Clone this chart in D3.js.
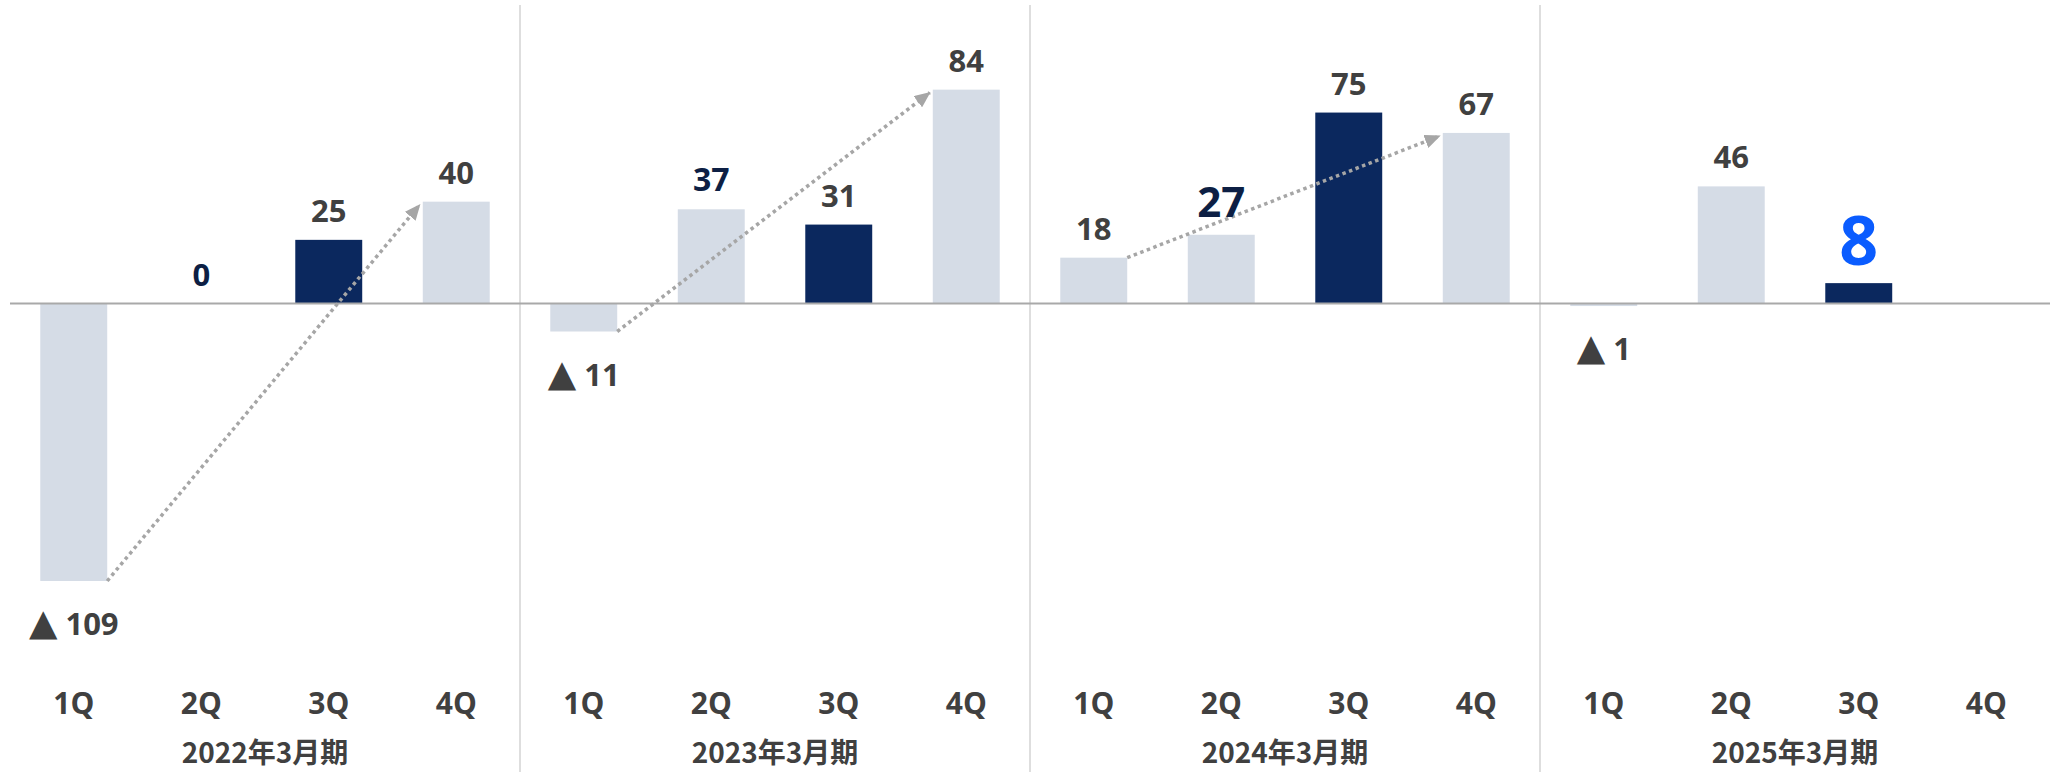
<!DOCTYPE html>
<html>
<head>
<meta charset="utf-8">
<script src="https://cdn.jsdelivr.net/npm/d3@7"></script>
<style>
  html, body { margin: 0; padding: 0; background: #ffffff; }
  svg { display: block; }
</style>
</head>
<body>
<svg id="chart" width="2051" height="772"></svg>
<script>
// ---- data ----
const years = ["2022年3月期", "2023年3月期", "2024年3月期", "2025年3月期"];
const quarters = ["1Q", "2Q", "3Q", "4Q"];
const values2022 = [-109, 0, 25, 40];
const values2023 = [-11, 37, 31, 84];
const values2024 = [18, 27, 75, 67];
const values2025 = [-1, 46, 8, null];
const seriesByYear = [values2022, values2023, values2024, values2025];
const trendArrows = [
  { year: "2022年3月期", from: "1Q", to: "4Q" },
  { year: "2023年3月期", from: "1Q", to: "4Q" },
  { year: "2024年3月期", from: "1Q", to: "4Q" }
];
const highlightQuarter = "3Q";

// ---- styles (kept out of data) ----
const W = 2051, H = 772;
const C_LIGHT = "#d5dce6", C_NAVY = "#0b285e", C_TEXT = "#404040",
      C_NAVY_TEXT = "#0d1f44", C_BLUE = "#0a5cff", C_GRID = "#a9a9a9",
      C_SEP = "#dedede", C_ARROW = "#a6a6a6";
const FONT = "'Open Sans', 'DejaVu Sans', sans-serif";
const CJK = "'Noto Sans CJK JP', 'Noto Sans', sans-serif";
const emphasis = {
  "2022年3月期|2Q": { color: C_NAVY_TEXT, size: 31 },
  "2023年3月期|2Q": { color: C_NAVY_TEXT, size: 32 },
  "2024年3月期|2Q": { color: C_NAVY_TEXT, size: 42 },
  "2025年3月期|3Q": { color: C_BLUE, size: 68 }
};

const rows = [];
years.forEach((yr, i) => quarters.forEach((q, j) => {
  rows.push({ year: yr, q: q, v: seriesByYear[i][j] });
}));

const svg = d3.select("#chart");

const xYear = d3.scaleBand().domain(years).range([10, 2050]);
const xQ = d3.scaleBand().domain(quarters).range([0, xYear.bandwidth()])
  .paddingInner(0.475).paddingOuter(0.2375);
const y = d3.scaleLinear().domain([-120, 120]).range([609, -2]);

const xOf = d => xYear(d.year) + xQ(d.q);
const cxOf = d => xOf(d) + xQ.bandwidth() / 2;

// separators
svg.append("g").selectAll("line")
  .data(years.slice(1))
  .join("line")
  .attr("x1", d => xYear(d)).attr("x2", d => xYear(d))
  .attr("y1", 5).attr("y2", H)
  .attr("stroke", C_SEP).attr("stroke-width", 2);

// bars
const barRows = rows.filter(d => d.v !== null);
svg.append("g").selectAll("rect")
  .data(barRows)
  .join("rect")
  .attr("x", xOf)
  .attr("width", xQ.bandwidth())
  .attr("y", d => Math.min(y(d.v), y(0)))
  .attr("height", d => Math.max(Math.abs(y(d.v) - y(0)), d.v === 0 ? 0 : 2))
  .attr("fill", d => d.q === highlightQuarter ? C_NAVY : C_LIGHT);

// zero line
svg.append("line")
  .attr("x1", xYear.range()[0]).attr("x2", xYear.range()[1])
  .attr("y1", y(0)).attr("y2", y(0))
  .attr("stroke", C_GRID).attr("stroke-width", 2);

// arrows
const defs = svg.append("defs");
defs.append("marker")
  .attr("id", "arrowhead")
  .attr("markerUnits", "userSpaceOnUse")
  .attr("viewBox", "0 0 16 14")
  .attr("refX", 15).attr("refY", 7)
  .attr("markerWidth", 16).attr("markerHeight", 14)
  .attr("orient", "auto")
  .append("path")
  .attr("d", "M0,0 L16,7 L0,14 Z")
  .attr("fill", C_ARROW);

const findRow = (yr, q) => rows.find(r => r.year === yr && r.q === q);
svg.append("g").selectAll("line")
  .data(trendArrows)
  .join("line")
  .attr("x1", a => xOf(findRow(a.year, a.from)) + xQ.bandwidth())
  .attr("y1", a => y(findRow(a.year, a.from).v))
  .attr("x2", a => xOf(findRow(a.year, a.to)) - 3)
  .attr("y2", a => y(findRow(a.year, a.to).v) + 3)
  .attr("stroke", C_ARROW)
  .attr("stroke-width", 3.5)
  .attr("stroke-dasharray", "3.5 3.5")
  .attr("marker-end", "url(#arrowhead)");

// value labels
const lbl = svg.append("g").selectAll("text")
  .data(barRows)
  .join("text")
  .attr("x", cxOf)
  .attr("y", d => d.v < 0 ? y(d.v) + 54 : y(d.v) - 18)
  .attr("text-anchor", "middle")
  .attr("font-family", FONT)
  .attr("font-weight", 700)
  .attr("font-size", d => (emphasis[d.year + "|" + d.q] || {}).size || 31)
  .attr("fill", d => (emphasis[d.year + "|" + d.q] || {}).color || C_TEXT);
lbl.each(function(d) {
  const t = d3.select(this);
  if (d.v < 0) {
    t.append("tspan").attr("font-family", "'DejaVu Sans', sans-serif")
      .attr("font-size", 37).text("▲");
    t.append("tspan").text(" " + Math.abs(d.v));
  } else {
    t.text(d.v);
  }
});

// quarter labels
svg.append("g").selectAll("text")
  .data(rows)
  .join("text")
  .attr("x", cxOf)
  .attr("y", 714)
  .attr("text-anchor", "middle")
  .attr("font-family", FONT)
  .attr("font-weight", 700)
  .attr("font-size", 30)
  .attr("fill", C_TEXT)
  .text(d => d.q);

// year labels
svg.append("g").selectAll("text")
  .data(years)
  .join("text")
  .attr("x", d => xYear(d) + xYear.bandwidth() / 2)
  .attr("y", 763)
  .attr("text-anchor", "middle")
  .attr("font-family", CJK)
  .attr("font-weight", 700)
  .attr("font-size", 28)
  .attr("fill", C_TEXT)
  .text(d => d);
</script>
</body>
</html>
